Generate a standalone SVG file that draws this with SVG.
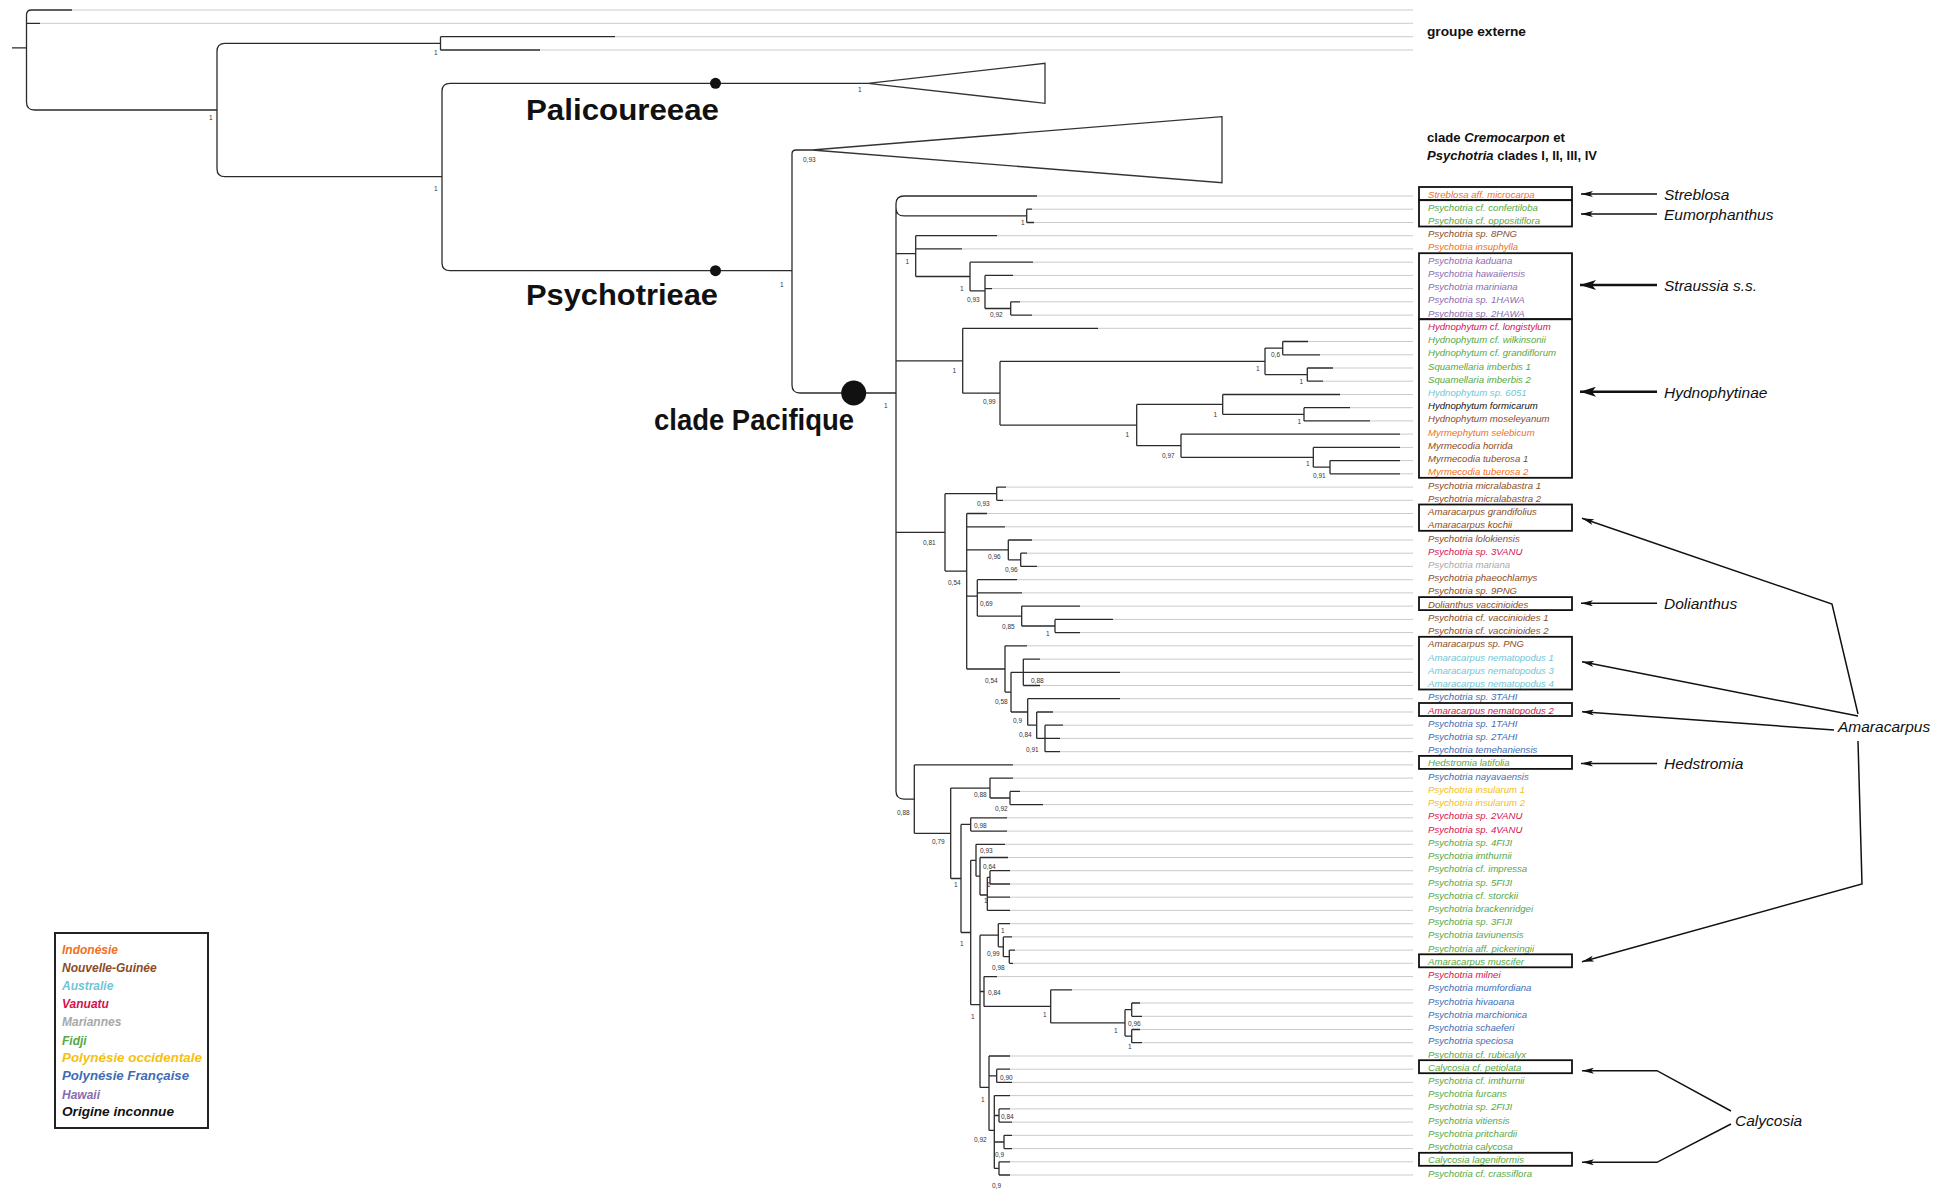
<svg xmlns="http://www.w3.org/2000/svg" width="1946" height="1192" viewBox="0 0 1946 1192">
<style>
  .br{fill:none;stroke:#2b2b2b;stroke-width:1.3}
  .ld{fill:none;stroke:#cbcbcb;stroke-width:1}
  .tri{fill:#fff;stroke:#333;stroke-width:1.3}
  .sup{font-family:"Liberation Sans",Arial,sans-serif;font-size:6.5px;fill:#333}
  .tx{font-family:"Liberation Sans",Arial,sans-serif;font-size:9.6px;font-style:italic}
  .box{fill:none;stroke:#111;stroke-width:1.8}
  .arr{fill:none;stroke:#111;stroke-width:1.5}
  .arrb{fill:none;stroke:#111;stroke-width:2.6}
  .cl{font-family:"Liberation Sans",Arial,sans-serif;font-size:15.5px;font-style:italic;fill:#111}
  .big{font-family:"Liberation Sans",Arial,sans-serif;font-size:30px;font-weight:bold;fill:#111}
  .hd{font-family:"Liberation Sans",Arial,sans-serif;font-size:12.5px;font-weight:bold;fill:#111}
  .lg{font-family:"Liberation Sans",Arial,sans-serif;font-size:12px;font-weight:bold;font-style:italic}
  .id{fill:#f26f21}.ng{fill:#8a4b26}.au{fill:#6ec6d8}.va{fill:#d3124f}.ma{fill:#a8a8a8}
  .fi{fill:#56a845}.po{fill:#f5c010}.pf{fill:#3e6db4}.hw{fill:#8a6bb1}.un{fill:#111}
</style>
<defs>
  <marker id="ah" viewBox="0 0 12 6" refX="12" refY="3" markerWidth="12" markerHeight="6" markerUnits="userSpaceOnUse" orient="auto">
    <path d="M0,0 L12,3 L0,6 L3,3 z" fill="#111"/>
  </marker>
  <marker id="ahb" viewBox="0 0 16 10" refX="16" refY="5" markerWidth="16" markerHeight="10" markerUnits="userSpaceOnUse" orient="auto">
    <path d="M0,0 L16,5 L0,10 L4,5 z" fill="#111"/>
  </marker>
</defs>
<rect width="1946" height="1192" fill="#fff"/>

<!-- leader lines from branch tips to the taxon labels -->
<g id="leaders" class="ld">
  <path d="M72,10H1413M40,23.3H1413M615,36.7H1413M540,50H1413
  M1037,196H1413M1032,209.2H1413M1034,222.5H1413M997,235.7H1413M962,248.9H1413M1033,262.2H1413M1013,275.4H1413M992,288.6H1413M1020,301.8H1413M1032,315.1H1413
  M1098,328.3H1413M1308,341.5H1413M1320,354.8H1413M1333,368H1413M1323,381.2H1413M1340,394.5H1413M1350,407.7H1413M1370,420.9H1413M1400,434.1H1413M1400,447.4H1413M1400,460.6H1413M1400,473.8H1413
  M1006,487.1H1413M1003,500.3H1413M987,513.5H1413M1005,526.8H1413M1032,540H1413M1027,553.2H1413M1037,566.4H1413M1017,579.7H1413M1022,592.9H1413M1080,606.1H1413M1113,619.4H1413M1080,632.6H1413
  M1027,645.8H1413M1040,659.1H1413M1120,672.3H1413M1040,685.5H1413M1120,698.7H1413M1053,712H1413M1063,725.2H1413M1060,738.4H1413M1060,751.7H1413
  M1013,764.9H1413M1013,778.1H1413M1020,791.4H1413M1043,804.6H1413M1007,817.8H1413M1007,831.1H1413M1005,844.3H1413M1008,857.5H1413M1010,870.7H1413M1010,884H1413M1010,897.2H1413M1010,910.4H1413
  M1010,923.7H1413M1012,936.9H1413M1015,950.1H1413M1013,963.3H1413M997,976.6H1413M1072,989.8H1413M1140,1003H1413M1142,1016.3H1413M1140,1029.5H1413M1142,1042.7H1413
  M1010,1056H1413M1010,1069.2H1413M1012,1082.4H1413M1010,1095.6H1413M1010,1108.9H1413M1012,1122.1H1413M1012,1135.3H1413M1012,1148.6H1413M1010,1161.8H1413M1010,1175H1413"/>
</g>

<!-- tree branches -->
<g id="connectors" class="br">
  <path d="M12,47.8H26.5M72,10H31.5Q26.5,10 26.5,15V102Q26.5,110 34.5,110H217M26.5,23.3H40"/>
  <path d="M440.5,43.3H225Q217,43.3 217,51.3V168.7Q217,176.7 225,176.7H442"/>
  <path d="M440.5,36.7V50M440.5,36.7H615M440.5,50H540"/>
  <path d="M868,83.3H450Q442,83.3 442,91.3V262.7Q442,270.7 450,270.7H792"/>
  <path d="M812,150H796Q792,150 792,154V385Q792,393 800,393H896"/>
  <path d="M1037,196H904Q896,196 896,204V791.1Q896,799.1 904,799.1H914.3M896,207.9Q896,215.9 904,215.9H1026.7M896,253.7H915.7M896,360.8H962.7M896,532.4H945"/>
  <path d="M1026.7,209.2V222.5M1026.7,209.2H1032M1026.7,222.5H1034"/>
  <path d="M915.7,235.7V276.5M915.7,235.7H997M915.7,248.9H962M915.7,276.5H970"/>
  <path d="M970,262.2V290.8M970,262.2H1033M970,290.8H985"/>
  <path d="M985,275.4V308.5M985,275.4H1013M985,288.6H992M985,308.5H1010.7"/>
  <path d="M1010.7,301.8V315.1M1010.7,301.8H1020M1010.7,315.1H1032"/>
  <path d="M962.7,328.3V393.2M962.7,328.3H1098M962.7,393.2H1000"/>
  <path d="M1000,361.4V425.1M1000,361.4H1265M1000,425.1H1136.7"/>
  <path d="M1265,348.1V374.6M1265,348.1H1282.7M1265,374.6H1307.3"/>
  <path d="M1282.7,341.5V354.8M1282.7,341.5H1308M1282.7,354.8H1320"/>
  <path d="M1307.3,368V381.2M1307.3,368H1333M1307.3,381.2H1323"/>
  <path d="M1136.7,404.4V445.7M1136.7,404.4H1222.7M1136.7,445.7H1181"/>
  <path d="M1222.7,394.5V414.3M1222.7,394.5H1340M1222.7,414.3H1304"/>
  <path d="M1304,407.7V420.9M1304,407.7H1350M1304,420.9H1370"/>
  <path d="M1181,434.1V457.3M1181,434.1H1400M1181,457.3H1313.3"/>
  <path d="M1313.3,447.4V467.2M1313.3,447.4H1400M1313.3,467.2H1330"/>
  <path d="M1330,460.6V473.8M1330,460.6H1400M1330,473.8H1400"/>
  <path d="M945,493.7V571.1M945,493.7H996.7M945,571.1H966.7"/>
  <path d="M996.7,487.1V500.3M996.7,487.1H1006M996.7,500.3H1003"/>
  <path d="M966.7,513.5V669M966.7,513.5H987M966.7,526.8H1005M966.7,549.9H1008.3M966.7,596.2H977.3M966.7,669H1005"/>
  <path d="M1008.3,540V559.8M1008.3,540H1032M1008.3,559.8H1020.7"/>
  <path d="M1020.7,553.2V566.4M1020.7,553.2H1027M1020.7,566.4H1037"/>
  <path d="M977.3,579.7V616.1M977.3,579.7H1017M977.3,592.9H1022M977.3,616.1H1021.7"/>
  <path d="M1021.7,606.1V626M1021.7,606.1H1080M1021.7,626H1055"/>
  <path d="M1055,619.4V632.6M1055,619.4H1113M1055,632.6H1080"/>
  <path d="M1005,645.8V692.1M1005,645.8H1027M1005,692.1H1011"/>
  <path d="M1011,672.3V712M1011,672.3H1023.3M1011,712H1027.7"/>
  <path d="M1023.3,659.1V685.5M1023.3,659.1H1040M1023.3,672.3H1120M1023.3,685.5H1040"/>
  <path d="M1027.7,698.7V725.2M1027.7,698.7H1120M1027.7,725.2H1036.7"/>
  <path d="M1036.7,712V738.4M1036.7,712H1053M1036.7,738.4H1045"/>
  <path d="M1045,725.2V751.7M1045,725.2H1063M1045,738.4H1060M1045,751.7H1060"/>
  <path d="M914.3,764.9V833.3M914.3,764.9H1013M914.3,833.3H950.7"/>
  <path d="M950.7,788.1V878.5M950.7,788.1H990M950.7,878.5H961"/>
  <path d="M990,778.1V798M990,778.1H1013M990,798H1010"/>
  <path d="M1010,791.4V804.6M1010,791.4H1020M1010,804.6H1043"/>
  <path d="M961,824.4V932.5M961,824.4H970.7M961,932.5H970.7"/>
  <path d="M970.7,817.8V831.1M970.7,817.8H1007M970.7,831.1H1007"/>
  <path d="M970.7,860.3V1004.7M970.7,860.3H976M970.7,1004.7H980"/>
  <path d="M976,844.3V876.2M976,844.3H1005M976,876.2H980"/>
  <path d="M980,857.5V895M980,857.5H1008M980,895H987.3"/>
  <path d="M987.3,877.3V910.4M987.3,877.3H990M987.3,897.2H1010M987.3,910.4H1010"/>
  <path d="M990,870.7V884M990,870.7H1010M990,884H1010"/>
  <path d="M980,935.2V1087.4M980,935.2H998.3M980,991.5H984M980,1087.4H989"/>
  <path d="M998.3,923.7V946.8M998.3,923.7H1010M998.3,946.8H1003.3"/>
  <path d="M1003.3,936.9V956.7M1003.3,936.9H1012M1003.3,956.7H1009.3"/>
  <path d="M1009.3,950.1V963.3M1009.3,950.1H1015M1009.3,963.3H1013"/>
  <path d="M984,976.6V1006.4M984,976.6H997M984,1006.4H1050.7"/>
  <path d="M1050.7,989.8V1022.9M1050.7,989.8H1072M1050.7,1022.9H1125"/>
  <path d="M1125,1009.7V1036.1M1125,1009.7H1131.7M1125,1036.1H1131.7"/>
  <path d="M1131.7,1003V1016.3M1131.7,1003H1140M1131.7,1016.3H1142"/>
  <path d="M1131.7,1029.5V1042.7M1131.7,1029.5H1140M1131.7,1042.7H1142"/>
  <path d="M989,1056V1130.4M989,1056H1010M989,1075.8H996.7M989,1130.4H994.3"/>
  <path d="M996.7,1069.2V1082.4M996.7,1069.2H1010M996.7,1082.4H1012"/>
  <path d="M994.3,1095.6V1168.4M994.3,1095.6H1010M994.3,1115.5H999M994.3,1142H1004M994.3,1168.4H999"/>
  <path d="M999,1108.9V1122.1M999,1108.9H1010M999,1122.1H1012"/>
  <path d="M1004,1135.3V1148.6M1004,1135.3H1012M1004,1148.6H1012"/>
  <path d="M999,1161.8V1175M999,1161.8H1010M999,1175H1010"/>
</g>

<!-- collapsed clades -->
<g id="clade-palicoureeae">
  <polygon class="tri" points="868,83.3 1045,63.3 1045,103.3"/>
  <circle cx="715.5" cy="83.3" r="5.5" fill="#111"/>
  <text class="big" x="526" y="120" textLength="193" lengthAdjust="spacingAndGlyphs">Palicoureeae</text>
</g>
<g id="clade-cremocarpon">
  <polygon class="tri" points="812,150 1222,116.7 1222,182.7"/>
  <text class="hd" x="1427" y="141.5" textLength="138" lengthAdjust="spacingAndGlyphs">clade <tspan font-style="italic">Cremocarpon</tspan> et</text>
  <text class="hd" x="1427" y="159.5" textLength="170" lengthAdjust="spacingAndGlyphs"><tspan font-style="italic">Psychotria</tspan> clades I, II, III, IV</text>
</g>
<g id="clade-psychotrieae">
  <circle cx="715.5" cy="270.7" r="5.5" fill="#111"/>
  <text class="big" x="526" y="305" textLength="192" lengthAdjust="spacingAndGlyphs">Psychotrieae</text>
</g>
<g id="clade-pacifique">
  <circle cx="853.7" cy="393" r="12.5" fill="#111"/>
  <text class="big" x="654" y="430" textLength="200" lengthAdjust="spacingAndGlyphs">clade Pacifique</text>
</g>
<g id="outgroup">
  <text class="hd" x="1427" y="36" textLength="99" lengthAdjust="spacingAndGlyphs">groupe externe</text>
</g>

<!-- posterior probabilities -->
<g id="support" class="sup">
  <text x="209" y="119.5">1</text><text x="434" y="54.5">1</text><text x="434" y="190.5">1</text>
  <text x="858" y="92">1</text><text x="803" y="161.5">0,93</text><text x="780" y="287">1</text><text x="884" y="407.5">1</text>
  <text x="1021" y="225">1</text><text x="905.5" y="264">1</text><text x="960" y="290.5">1</text>
  <text x="967" y="302.3">0,93</text><text x="990" y="317.3">0,92</text><text x="952.5" y="373">1</text>
  <text x="983" y="404">0,99</text><text x="1271" y="357.3">0,6</text><text x="1256" y="370.6">1</text>
  <text x="1299.5" y="384">1</text><text x="1125.5" y="437.3">1</text><text x="1213.5" y="416.6">1</text>
  <text x="1297.5" y="424">1</text><text x="1162" y="458">0,97</text><text x="1306" y="465.6">1</text>
  <text x="1313" y="478.3">0,91</text>
  <text x="923" y="545">0,81</text><text x="977" y="505.6">0,93</text><text x="948" y="585">0,54</text>
  <text x="988" y="559">0,96</text><text x="1005" y="572.3">0,96</text><text x="980" y="605.6">0,69</text>
  <text x="1002" y="629">0,85</text><text x="1046" y="635.6">1</text><text x="985" y="683.3">0,54</text>
  <text x="1031" y="683.3">0,88</text><text x="995" y="704">0,58</text><text x="1013" y="723">0,9</text>
  <text x="1019" y="737.3">0,84</text><text x="1026" y="751.6">0,91</text>
  <text x="897" y="814.6">0,88</text><text x="932" y="844">0,79</text><text x="974" y="797.3">0,88</text>
  <text x="995" y="811.3">0,92</text><text x="954" y="887.3">1</text><text x="974" y="828">0,98</text>
  <text x="980" y="853">0,93</text><text x="983" y="869">0,64</text><text x="987" y="887.3">1</text>
  <text x="984" y="903">1</text><text x="960" y="946.3">1</text><text x="1001" y="933.3">1</text>
  <text x="987" y="956.3">0,99</text><text x="992" y="969.6">0,98</text><text x="971" y="1019">1</text>
  <text x="988" y="995">0,84</text><text x="1043" y="1017.3">1</text><text x="1114" y="1033">1</text>
  <text x="1128" y="1026.3">0,96</text><text x="1128" y="1049">1</text><text x="981" y="1102.3">1</text>
  <text x="1000" y="1079.6">0,90</text><text x="1001" y="1119">0,84</text><text x="974" y="1141.6">0,92</text>
  <text x="995" y="1157.3">0,9</text><text x="992" y="1188">0,9</text>
</g>

<!-- taxa -->
<g id="taxa" class="tx">
  <g id="t01"><text class="id" x="1428" y="197.5">Streblosa aff. microcarpa</text></g>
  <g id="t02"><text class="fi" x="1428" y="210.7">Psychotria cf. confertiloba</text></g>
  <g id="t03"><text class="fi" x="1428" y="224">Psychotria cf. oppositiflora</text></g>
  <g id="t04"><text class="ng" x="1428" y="237.2">Psychotria sp. 8PNG</text></g>
  <g id="t05"><text class="id" x="1428" y="250.4">Psychotria insuphylla</text></g>
  <g id="t06"><text class="hw" x="1428" y="263.7">Psychotria kaduana</text></g>
  <g id="t07"><text class="hw" x="1428" y="276.9">Psychotria hawaiiensis</text></g>
  <g id="t08"><text class="hw" x="1428" y="290.1">Psychotria mariniana</text></g>
  <g id="t09"><text class="hw" x="1428" y="303.3">Psychotria sp. 1HAWA</text></g>
  <g id="t10"><text class="hw" x="1428" y="316.6">Psychotria sp. 2HAWA</text></g>
  <g id="t11"><text class="va" x="1428" y="329.8">Hydnophytum cf. longistylum</text></g>
  <g id="t12"><text class="fi" x="1428" y="343">Hydnophytum cf. wilkinsonii</text></g>
  <g id="t13"><text class="fi" x="1428" y="356.3">Hydnophytum cf. grandiflorum</text></g>
  <g id="t14"><text class="fi" x="1428" y="369.5">Squamellaria imberbis 1</text></g>
  <g id="t15"><text class="fi" x="1428" y="382.7">Squamellaria imberbis 2</text></g>
  <g id="t16"><text class="au" x="1428" y="396">Hydnophytum sp. 6051</text></g>
  <g id="t17"><text class="un" x="1428" y="409.2">Hydnophytum formicarum</text></g>
  <g id="t18"><text class="ng" x="1428" y="422.4">Hydnophytum moseleyanum</text></g>
  <g id="t19"><text class="id" x="1428" y="435.6">Myrmephytum selebicum</text></g>
  <g id="t20"><text class="ng" x="1428" y="448.9">Myrmecodia horrida</text></g>
  <g id="t21"><text class="ng" x="1428" y="462.1">Myrmecodia tuberosa 1</text></g>
  <g id="t22"><text class="id" x="1428" y="475.3">Myrmecodia tuberosa 2</text></g>
  <g id="t23"><text class="ng" x="1428" y="488.6">Psychotria micralabastra 1</text></g>
  <g id="t24"><text class="ng" x="1428" y="501.8">Psychotria micralabastra 2</text></g>
  <g id="t25"><text class="ng" x="1428" y="515">Amaracarpus grandifolius</text></g>
  <g id="t26"><text class="ng" x="1428" y="528.3">Amaracarpus kochii</text></g>
  <g id="t27"><text class="ng" x="1428" y="541.5">Psychotria lolokiensis</text></g>
  <g id="t28"><text class="va" x="1428" y="554.7">Psychotria sp. 3VANU</text></g>
  <g id="t29"><text class="ma" x="1428" y="567.9">Psychotria mariana</text></g>
  <g id="t30"><text class="ng" x="1428" y="581.2">Psychotria phaeochlamys</text></g>
  <g id="t31"><text class="ng" x="1428" y="594.4">Psychotria sp. 9PNG</text></g>
  <g id="t32"><text class="ng" x="1428" y="607.6">Dolianthus vaccinioides</text></g>
  <g id="t33"><text class="ng" x="1428" y="620.9">Psychotria cf. vaccinioides 1</text></g>
  <g id="t34"><text class="ng" x="1428" y="634.1">Psychotria cf. vaccinioides 2</text></g>
  <g id="t35"><text class="ng" x="1428" y="647.3">Amaracarpus sp. PNG</text></g>
  <g id="t36"><text class="au" x="1428" y="660.6">Amaracarpus nematopodus 1</text></g>
  <g id="t37"><text class="au" x="1428" y="673.8">Amaracarpus nematopodus 3</text></g>
  <g id="t38"><text class="au" x="1428" y="687">Amaracarpus nematopodus 4</text></g>
  <g id="t39"><text class="pf" x="1428" y="700.2">Psychotria sp. 3TAHI</text></g>
  <g id="t40"><text class="va" x="1428" y="713.5">Amaracarpus nematopodus 2</text></g>
  <g id="t41"><text class="pf" x="1428" y="726.7">Psychotria sp. 1TAHI</text></g>
  <g id="t42"><text class="pf" x="1428" y="739.9">Psychotria sp. 2TAHI</text></g>
  <g id="t43"><text class="pf" x="1428" y="753.2">Psychotria temehaniensis</text></g>
  <g id="t44"><text class="fi" x="1428" y="766.4">Hedstromia latifolia</text></g>
  <g id="t45"><text class="pf" x="1428" y="779.6">Psychotria nayavaensis</text></g>
  <g id="t46"><text class="po" x="1428" y="792.9">Psychotria insularum 1</text></g>
  <g id="t47"><text class="po" x="1428" y="806.1">Psychotria insularum 2</text></g>
  <g id="t48"><text class="va" x="1428" y="819.3">Psychotria sp. 2VANU</text></g>
  <g id="t49"><text class="va" x="1428" y="832.6">Psychotria sp. 4VANU</text></g>
  <g id="t50"><text class="fi" x="1428" y="845.8">Psychotria sp. 4FIJI</text></g>
  <g id="t51"><text class="fi" x="1428" y="859">Psychotria imthurnii</text></g>
  <g id="t52"><text class="fi" x="1428" y="872.2">Psychotria cf. impressa</text></g>
  <g id="t53"><text class="fi" x="1428" y="885.5">Psychotria sp. 5FIJI</text></g>
  <g id="t54"><text class="fi" x="1428" y="898.7">Psychotria cf. storckii</text></g>
  <g id="t55"><text class="fi" x="1428" y="911.9">Psychotria brackenridgei</text></g>
  <g id="t56"><text class="fi" x="1428" y="925.2">Psychotria sp. 3FIJI</text></g>
  <g id="t57"><text class="fi" x="1428" y="938.4">Psychotria taviunensis</text></g>
  <g id="t58"><text class="fi" x="1428" y="951.6">Psychotria aff. pickeringii</text></g>
  <g id="t59"><text class="fi" x="1428" y="964.8">Amaracarpus muscifer</text></g>
  <g id="t60"><text class="va" x="1428" y="978.1">Psychotria milnei</text></g>
  <g id="t61"><text class="pf" x="1428" y="991.3">Psychotria mumfordiana</text></g>
  <g id="t62"><text class="pf" x="1428" y="1004.5">Psychotria hivaoana</text></g>
  <g id="t63"><text class="pf" x="1428" y="1017.8">Psychotria marchionica</text></g>
  <g id="t64"><text class="pf" x="1428" y="1031">Psychotria schaeferi</text></g>
  <g id="t65"><text class="pf" x="1428" y="1044.2">Psychotria speciosa</text></g>
  <g id="t66"><text class="fi" x="1428" y="1057.5">Psychotria cf. rubicalyx</text></g>
  <g id="t67"><text class="fi" x="1428" y="1070.7">Calycosia cf. petiolata</text></g>
  <g id="t68"><text class="fi" x="1428" y="1083.9">Psychotria cf. imthurnii</text></g>
  <g id="t69"><text class="fi" x="1428" y="1097.1">Psychotria furcans</text></g>
  <g id="t70"><text class="fi" x="1428" y="1110.4">Psychotria sp. 2FIJI</text></g>
  <g id="t71"><text class="fi" x="1428" y="1123.6">Psychotria vitiensis</text></g>
  <g id="t72"><text class="fi" x="1428" y="1136.8">Psychotria pritchardii</text></g>
  <g id="t73"><text class="fi" x="1428" y="1150.1">Psychotria calycosa</text></g>
  <g id="t74"><text class="fi" x="1428" y="1163.3">Calycosia lageniformis</text></g>
  <g id="t75"><text class="fi" x="1428" y="1176.5">Psychotria cf. crassiflora</text></g>
</g>

<!-- genus boxes and pointers -->
<g id="boxes" class="box">
  <rect x="1419" y="187" width="153" height="13"/>
  <rect x="1419" y="200.2" width="153" height="26.3"/>
  <rect x="1419" y="253.2" width="153" height="65.9"/>
  <rect x="1419" y="319.3" width="153" height="158.5"/>
  <rect x="1419" y="504.5" width="153" height="26.3"/>
  <rect x="1419" y="597.1" width="153" height="13"/>
  <rect x="1419" y="636.8" width="153" height="52.7"/>
  <rect x="1419" y="703" width="153" height="13"/>
  <rect x="1419" y="755.9" width="153" height="13"/>
  <rect x="1419" y="954.3" width="153" height="13"/>
  <rect x="1419" y="1060.2" width="153" height="13"/>
  <rect x="1419" y="1152.8" width="153" height="13"/>
</g>

<g id="label-streblosa">
  <line class="arr" x1="1657" y1="194" x2="1581" y2="194" marker-end="url(#ah)"/>
  <text class="cl" x="1664" y="199.5">Streblosa</text>
</g>
<g id="label-eumorphanthus">
  <line class="arr" x1="1657" y1="214" x2="1581" y2="214" marker-end="url(#ah)"/>
  <text class="cl" x="1664" y="219.5">Eumorphanthus</text>
</g>
<g id="label-straussia">
  <line class="arrb" x1="1657" y1="285" x2="1580" y2="285" marker-end="url(#ahb)"/>
  <text class="cl" x="1664" y="291">Straussia s.s.</text>
</g>
<g id="label-hydnophytinae">
  <line class="arrb" x1="1657" y1="391.7" x2="1580" y2="391.7" marker-end="url(#ahb)"/>
  <text class="cl" x="1664" y="397.5" font-style="normal" font-size="16.5">Hydnophytinae</text>
</g>
<g id="label-dolianthus">
  <line class="arr" x1="1657" y1="603.3" x2="1581" y2="603.3" marker-end="url(#ah)"/>
  <text class="cl" x="1664" y="609">Dolianthus</text>
</g>
<g id="label-hedstromia">
  <line class="arr" x1="1657" y1="763.5" x2="1581" y2="763.5" marker-end="url(#ah)"/>
  <text class="cl" x="1664" y="769">Hedstromia</text>
</g>
<g id="label-amaracarpus">
  <polyline class="arr" points="1858,714 1832,604 1582,518.3" marker-end="url(#ah)"/>
  <polyline class="arr" points="1858,716 1582,661.7" marker-end="url(#ah)"/>
  <polyline class="arr" points="1834,730 1582,711.7" marker-end="url(#ah)"/>
  <polyline class="arr" points="1858,741 1862,884 1582,961.7" marker-end="url(#ah)"/>
  <text class="cl" x="1838" y="732" font-size="15">Amaracarpus</text>
</g>
<g id="label-calycosia">
  <polyline class="arr" points="1731,1111 1657,1070.7 1582,1070.7" marker-end="url(#ah)"/>
  <polyline class="arr" points="1731,1124 1657,1162.3 1582,1162.3" marker-end="url(#ah)"/>
  <text class="cl" x="1735" y="1126" font-size="14.5">Calycosia</text>
</g>

<!-- legend of geographic origins -->
<g id="legend">
  <rect x="55" y="933" width="153" height="195" fill="none" stroke="#222" stroke-width="2"/>
  <text class="lg id" x="62" y="953.5">Indonésie</text>
  <text class="lg ng" x="62" y="972">Nouvelle-Guinée</text>
  <text class="lg au" x="62" y="989.5">Australie</text>
  <text class="lg va" x="62" y="1008">Vanuatu</text>
  <text class="lg ma" x="62" y="1026">Mariannes</text>
  <text class="lg fi" x="62" y="1044.5">Fidji</text>
  <text class="lg po" x="62" y="1062" textLength="140" lengthAdjust="spacingAndGlyphs">Polynésie occidentale</text>
  <text class="lg pf" x="62" y="1080" textLength="127" lengthAdjust="spacingAndGlyphs">Polynésie Française</text>
  <text class="lg hw" x="62" y="1098.5">Hawaii</text>
  <text class="lg un" x="62" y="1116" textLength="112" lengthAdjust="spacingAndGlyphs">Origine inconnue</text>
</g>
</svg>
